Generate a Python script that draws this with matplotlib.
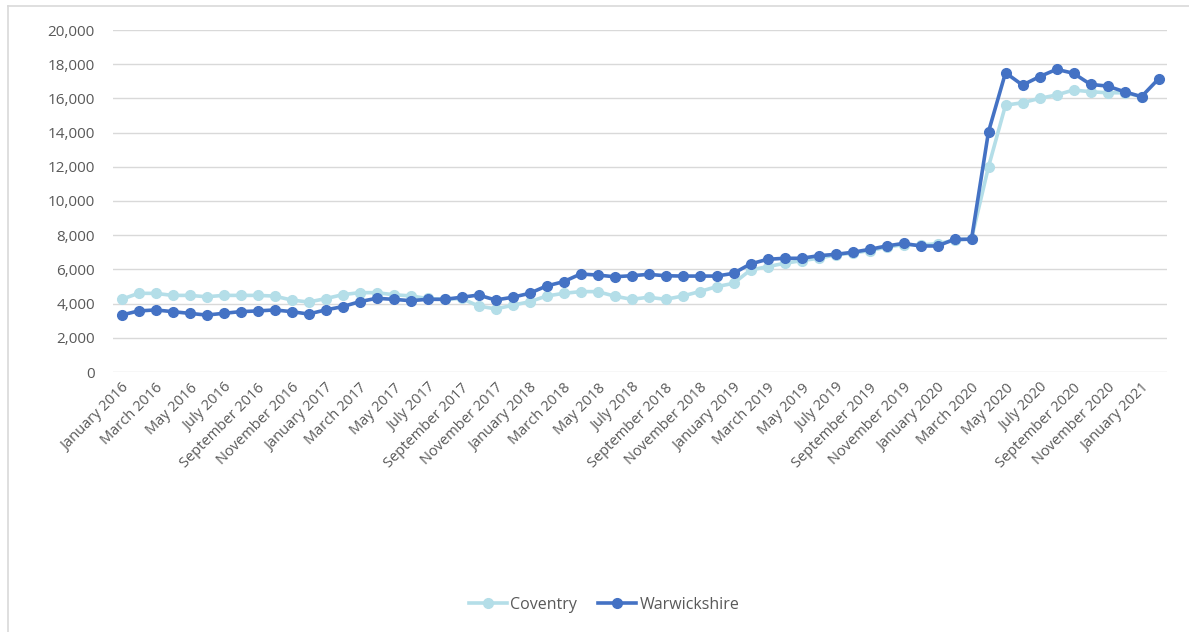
import matplotlib
matplotlib.use("Agg")
import matplotlib.pyplot as plt
import numpy as np
from matplotlib.lines import Line2D

months = ["January", "February", "March", "April", "May", "June", "July",
          "August", "September", "October", "November", "December"]
categories = [f"{months[i % 12]} {2016 + i // 12}" for i in range(62)]

coventry = [4250, 4600, 4600, 4480, 4480, 4400, 4480, 4480, 4480, 4440, 4210, 4090,
            4290, 4520, 4640, 4640, 4520, 4450, 4300, 4250, 4300, 3860, 3690, 3900,
            4110, 4440, 4600, 4700, 4700, 4440, 4250, 4370, 4250, 4440, 4700, 4990,
            5185, 5965, 6160, 6355, 6510, 6650, 6850, 6950, 7100, 7300, 7450, 7430,
            7500, 7700, 7800, 12000, 15600, 15750, 16000, 16200, 16490, 16390, 16330, 16330,
            16100, np.nan]
warwickshire = [3330, 3570, 3630, 3530, 3430, 3330, 3430, 3530, 3570, 3630, 3530, 3390,
                3630, 3820, 4110, 4310, 4250, 4170, 4250, 4250, 4370, 4500, 4210, 4370,
                4600, 5030, 5280, 5730, 5670, 5570, 5630, 5710, 5630, 5610, 5610, 5610,
                5770, 6320, 6590, 6650, 6650, 6800, 6880, 7000, 7170, 7370, 7520, 7370,
                7370, 7760, 7760, 14050, 17500, 16780, 17270, 17700, 17470, 16820, 16720, 16390,
                16100, 17140]

plt.rcParams['font.family'] = ['Open Sans', 'DejaVu Sans']
text_col = '#595959'
c_cov = '#B4DEE8'
c_war = '#4472C4'

fig = plt.figure(figsize=(11.89, 6.32), dpi=100)
ax = fig.add_axes([113/1189, 1 - 372/632, (1167 - 113)/1189, (372 - 30)/632])

x = np.arange(len(categories))
ax.plot(x, coventry, color=c_cov, lw=2.6, marker='o', ms=7, label='Coventry',
        solid_capstyle='round')
ax.plot(x, warwickshire, color=c_war, lw=2.6, marker='o', ms=7, label='Warwickshire',
        solid_capstyle='round')

ax.set_xlim(-0.5, len(categories) - 0.5)
ax.set_ylim(0, 20000)
ax.set_yticks(np.arange(0, 20001, 2000))
ax.set_yticklabels([f"{v:,}" for v in range(0, 20001, 2000)])
ax.grid(axis='y', color='#D9D9D9', lw=1)
ax.set_axisbelow(True)
for s in ax.spines.values():
    s.set_visible(False)
ax.tick_params(axis='y', length=0, pad=13, labelsize=11, labelcolor=text_col)
ax.set_xticks(x[::2])
ax.set_xticklabels(categories[::2], rotation=45, ha='right', rotation_mode='anchor')
ax.tick_params(axis='x', length=0, pad=6, labelsize=10.5, labelcolor=text_col)

handles = [Line2D([], [], color=c_cov, lw=2.6, marker='o', ms=7),
           Line2D([], [], color=c_war, lw=2.6, marker='o', ms=7)]
fig.legend(handles, ['Coventry', 'Warwickshire'], loc='center', bbox_to_anchor=(604/1189, 1 - 605/632),
           ncol=2, frameon=False, fontsize=11.5, labelcolor=text_col, handlelength=2.4,
           columnspacing=1.3, handletextpad=0.2)

# chart-area border (left and top)
fig.add_artist(Line2D([7.5/1189, 7.5/1189], [0, 1 - 6/632], transform=fig.transFigure,
                      color='#D9D9D9', lw=1.2))
fig.add_artist(Line2D([7.5/1189, 1], [1 - 6/632, 1 - 6/632], transform=fig.transFigure,
                      color='#D9D9D9', lw=1.2))

fig.savefig('out.png', dpi=100, facecolor='white')
